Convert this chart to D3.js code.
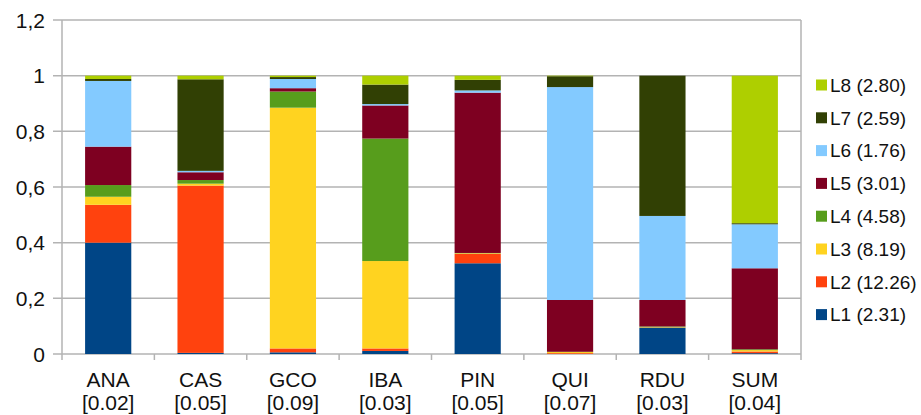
<!DOCTYPE html>
<html lang="en">
<head>
	<meta charset="utf-8">
	<title>Stacked shares</title>
	<style>
		body { margin: 0; background: #fff; }
		svg text { font-family: "Liberation Sans", Arial, sans-serif; fill: #111; }
	</style>
	<script type="text/javascript" src="https://d3js.org/d3.v7.min.js"></script>
</head>
<body>
	<script type="text/javascript">
            var categories = ["ANA", "CAS", "GCO", "IBA", "PIN", "QUI", "RDU", "SUM"];
            var catNotes = ["[0.02]", "[0.05]", "[0.09]", "[0.03]", "[0.05]", "[0.07]", "[0.03]", "[0.04]"];
            var seriesNames = ["L1 (2.31)", "L2 (12.26)", "L3 (8.19)", "L4 (4.58)", "L5 (3.01)", "L6 (1.76)", "L7 (2.59)", "L8 (2.80)"];
            var colors = ["#004586", "#ff420e", "#ffd320", "#579d1c", "#7e0021", "#83caff", "#314004", "#aecf00"];
            // one array per series, values in category order
            var L1 = [0.400, 0.004, 0.006, 0.011, 0.326, 0.000, 0.094, 0.003];
            var L2 = [0.136, 0.601, 0.014, 0.009, 0.034, 0.003, 0.001, 0.006];
            var L3 = [0.029, 0.007, 0.865, 0.314, 0.002, 0.004, 0.001, 0.005];
            var L4 = [0.042, 0.013, 0.058, 0.440, 0.001, 0.001, 0.003, 0.003];
            var L5 = [0.138, 0.028, 0.012, 0.119, 0.576, 0.186, 0.095, 0.291];
            var L6 = [0.236, 0.005, 0.033, 0.005, 0.008, 0.765, 0.302, 0.158];
            var L7 = [0.007, 0.329, 0.007, 0.070, 0.038, 0.039, 0.504, 0.004];
            var L8 = [0.012, 0.013, 0.005, 0.032, 0.015, 0.002, 0.000, 0.530];
            var yTicks = [0, 0.2, 0.4, 0.6, 0.8, 1, 1.2];

            var series = [L1, L2, L3, L4, L5, L6, L7, L8];
            var table = categories.map((c, i) => {
                var row = { cat: c };
                series.forEach((s, k) => row["s" + k] = s[i]);
                return row;
            });
            var keys = series.map((_, k) => "s" + k);
            var stacked = d3.stack().keys(keys)(table);

            var w = 921;
            var h = 415;
            var plotL = 62, plotR = 801, plotT = 20, plotB = 354;

            var svg = d3.select("body")
                .append("svg")
                .attr("width", w)
                .attr("height", h);

            var xScale = d3.scaleBand()
                .domain(categories)
                .range([plotL, plotR])
                .paddingInner(0.5)
                .paddingOuter(0.25);
            var yScale = d3.scaleLinear()
                .domain([0, 1.2])
                .range([plotB, plotT]);

            // gridlines + y tick marks
            svg.selectAll("line.grid")
                .data(yTicks)
                .enter()
                .append("line")
                .attr("class", "grid")
                .attr("x1", plotL - 9)
                .attr("x2", plotR)
                .attr("y1", d => yScale(d))
                .attr("y2", d => yScale(d))
                .attr("stroke", "#b3b3b3")
                .attr("stroke-width", 1.5);

            // frame: left axis and right edge
            svg.append("line")
                .attr("x1", plotL).attr("x2", plotL)
                .attr("y1", plotT).attr("y2", plotB + 6)
                .attr("stroke", "#b3b3b3").attr("stroke-width", 1.5);
            svg.append("line")
                .attr("x1", plotR).attr("x2", plotR)
                .attr("y1", plotT).attr("y2", plotB + 6)
                .attr("stroke", "#b3b3b3").attr("stroke-width", 1.5);

            // category boundary ticks
            var step = xScale.step();
            svg.selectAll("line.xtick")
                .data(categories.slice(1))
                .enter()
                .append("line")
                .attr("class", "xtick")
                .attr("x1", d => xScale(d) - step * 0.25)
                .attr("x2", d => xScale(d) - step * 0.25)
                .attr("y1", plotB)
                .attr("y2", plotB + 6)
                .attr("stroke", "#b3b3b3")
                .attr("stroke-width", 1.5);

            // y labels
            svg.selectAll("text.ylab")
                .data(yTicks)
                .enter()
                .append("text")
                .attr("class", "ylab")
                .attr("x", plotL - 17)
                .attr("y", d => yScale(d))
                .attr("dy", "0.36em")
                .attr("text-anchor", "end")
                .attr("font-size", "21px")
                .text(d => d3.format("~g")(d).replace(".", ","));

            // bars
            svg.selectAll("g.layer")
                .data(stacked)
                .enter()
                .append("g")
                .attr("class", "layer")
                .attr("fill", (d, k) => colors[k])
                .selectAll("rect")
                .data(d => d)
                .enter()
                .append("rect")
                .attr("x", d => xScale(d.data.cat))
                .attr("y", d => yScale(d[1]))
                .attr("width", xScale.bandwidth())
                .attr("height", d => yScale(d[0]) - yScale(d[1]));

            // x labels
            var xl = svg.selectAll("text.xlab")
                .data(categories)
                .enter()
                .append("text")
                .attr("class", "xlab")
                .attr("x", d => xScale(d) + xScale.bandwidth() / 2)
                .attr("y", 387)
                .attr("text-anchor", "middle")
                .attr("font-size", "21px");
            xl.append("tspan").text(d => d);
            xl.append("tspan")
                .attr("x", d => xScale(d) + xScale.bandwidth() / 2)
                .attr("dy", 23)
                .text((d, i) => catNotes[i]);

            // legend, L8 on top
            var legend = svg.selectAll("g.leg")
                .data(seriesNames.map((n, k) => ({ name: n, color: colors[k] })).reverse())
                .enter()
                .append("g")
                .attr("class", "leg")
                .attr("transform", (d, i) => "translate(816," + (85 + i * 32.8) + ")");
            legend.append("rect")
                .attr("x", 0).attr("y", -5.5)
                .attr("width", 11).attr("height", 11)
                .attr("fill", d => d.color);
            legend.append("text")
                .attr("x", 14)
                .attr("dy", "0.36em")
                .attr("font-size", "19px")
                .text(d => d.name);
        </script>
</body>
</html>
